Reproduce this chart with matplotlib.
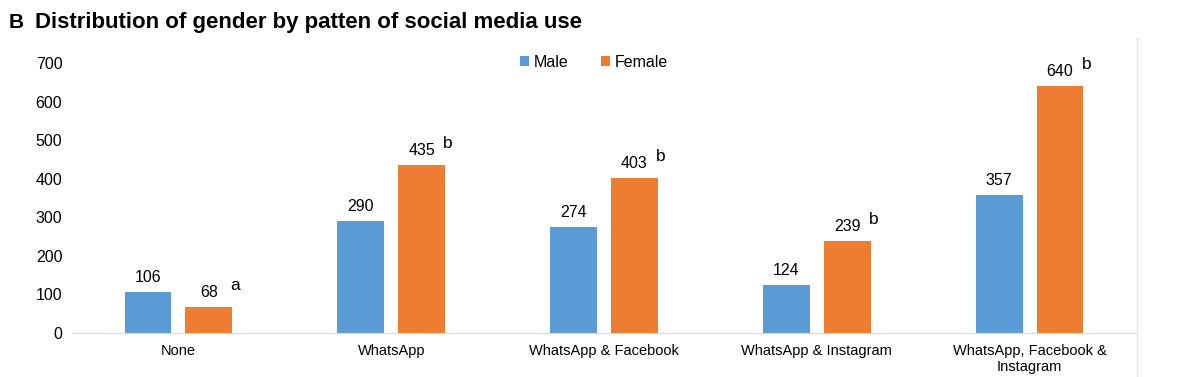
"""Grouped bar chart: distribution of gender by pattern of social media use."""

import matplotlib

matplotlib.use("Agg")

import matplotlib.pyplot as plt
import numpy as np
from matplotlib.lines import Line2D

plt.rcParams["font.family"] = ["Liberation Sans", "DejaVu Sans"]

categories = [
    "None",
    "WhatsApp",
    "WhatsApp & Facebook",
    "WhatsApp & Instagram",
    "WhatsApp, Facebook &\nInstagram",
]
male = [106, 290, 274, 124, 357]
female = [68, 435, 403, 239, 640]
female_marks = ["a", "b", "b", "b", "b"]

BLUE = "#5B9BD5"
ORANGE = "#ED7D31"

fig = plt.figure(figsize=(12, 3.77), dpi=100)
ax = fig.add_axes([0.06, 0.1167, 0.8867, 0.7162])

x = np.arange(len(categories))
offset = 0.143
width = 0.22
bars_m = ax.bar(x - offset, male, width, color=BLUE, label="Male")
bars_f = ax.bar(x + offset, female, width, color=ORANGE, label="Female")

for bar, v in zip(bars_m, male):
    ax.annotate(str(v), (bar.get_x() + bar.get_width() / 2, v),
                xytext=(0, 5), textcoords="offset points",
                ha="center", va="bottom", fontsize=11.5)
for bar, v, m in zip(bars_f, female, female_marks):
    cx = bar.get_x() + bar.get_width() / 2
    ax.annotate(str(v), (cx, v), xytext=(0, 5), textcoords="offset points",
                ha="center", va="bottom", fontsize=11.5)
    ax.annotate(m, (cx, v), xytext=(19, 10), textcoords="offset points",
                ha="center", va="bottom", fontsize=12.5)

ax.set_xlim(-0.5, len(categories) - 0.5)
ax.set_ylim(0, 700)
ax.set_yticks(np.arange(0, 701, 100))
ax.set_xticks(x)
ax.set_xticklabels(categories, fontsize=10.5, linespacing=1.15)
ax.tick_params(axis="y", labelsize=11.5, length=0, pad=7)
ax.tick_params(axis="x", length=0, pad=8)
for side in ["top", "right", "left"]:
    ax.spines[side].set_visible(False)
ax.spines["bottom"].set_color("#d9d9d9")

# outer chart border on the right
fig.add_artist(Line2D([0.9475, 0.9475], [0.0, 0.9], transform=fig.transFigure,
                      color="#e6e6e6", lw=1))

ax.legend(loc="center", bbox_to_anchor=(0.495, 0.835), bbox_transform=fig.transFigure,
          ncol=2, frameon=False, fontsize=11.5, handlelength=0.6, handleheight=0.6,
          handletextpad=0.3, columnspacing=2.0)

fig.text(0.007, 0.94, "B", fontsize=15, fontweight="bold", va="center")
fig.text(0.029, 0.94, "Distribution of gender by patten of social media use",
         fontsize=16, fontweight="bold", va="center")

fig.savefig("out.png", dpi=100, facecolor="white")
plt.close(fig)
